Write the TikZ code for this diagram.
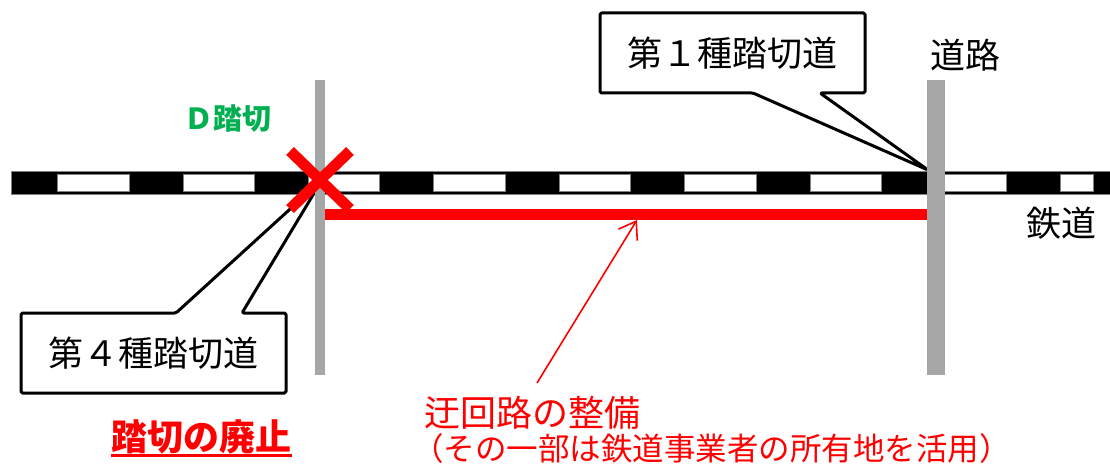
\documentclass[tikz,border=0pt]{standalone}
\usepackage{fontspec}
\newfontfamily\jp{Noto Sans CJK JP}
\usetikzlibrary{arrows.meta}
\definecolor{roadgray}{HTML}{A6A6A6}
\definecolor{dgreen}{HTML}{00B050}
\definecolor{pure}{HTML}{FF0000}
\begin{document}
\begin{tikzpicture}[x=1pt,y=-1pt,
  lbl/.style={inner sep=0pt, font=\jp\fontsize{35}{40}\selectfont},
  road/.style={fill=roadgray, draw=none},
  callout/.style={draw=black, line width=3pt, fill=white, line join=round, rounded corners=1.5pt},
  raildash/.style={fill=white, draw=gray, line width=0.6pt},
  xarm/.style={draw=pure, line width=11pt},
]
\useasboundingbox (0,0) rectangle (1110,465);
% railway
\filldraw[fill=black, draw=gray, line width=0.6pt] (11,171) rectangle (1112,194);
\foreach \k in {0,...,7} \path[raildash] ({57.5+125.4*\k},174) rectangle ++(71.4,17);
\path[raildash] (1060.7,174) rectangle (1093,191);
% detour route
\fill[pure] (320,209) rectangle (932,220);
\coordinate (routept) at (637,220);
% callouts
\path[callout] (600,13) -- (865,13) -- (865,93) -- (820,93) -- (928,170) -- (753,93) -- (600,93) -- cycle;
\node[lbl] (c1) at (732.5,53) {第１種踏切道};
\path[callout] (21,313) -- (176,313) -- (322,180) -- (242,313) -- (286,313) -- (286,393) -- (21,393) -- cycle;
\node[lbl] (c4) at (153.5,353) {第４種踏切道};
% roads
\path[road] (315,80) rectangle (325,375);
\path[road] (927,80) rectangle (945,375);
% abolished crossing
\draw[xarm] (290,151) -- (350,209);
\draw[xarm] (350,151) -- (290,209);
% labels
\node[lbl] (roadlbl) at (965,55) {道路};
\node[lbl] (raillbl) at (1061,223) {鉄道};
\node[lbl, font=\jp\bfseries\fontsize{29}{34}\selectfont, text=dgreen] (dname) at (228,119) {Ｄ踏切};
\node[lbl, font=\jp\bfseries\fontsize{36}{40}\selectfont, text=pure] (abol) at (201.5,437) {踏切の廃止};
\coordinate (ul) at (0,455.5);
\draw[pure, line width=2.5pt] (abol.west |- ul) -- (abol.east |- ul);
\node[lbl, font=\jp\fontsize{36}{40}\selectfont, text=pure, anchor=west] (detour) at (424,412.5) {迂回路の整備};
\node[lbl, font=\jp\fontsize{31.5}{36}\selectfont, text=pure, anchor=west] (note) at (411.8,449) {（その一部は鉄道事業者の所有地を活用）};
% arrow
\coordinate (arrtail) at (537,383);
\draw[pure, line width=1.6pt, -{Straight Barb[length=16pt,width=22pt]}] (arrtail) -- (routept);
\end{tikzpicture}
\end{document}
